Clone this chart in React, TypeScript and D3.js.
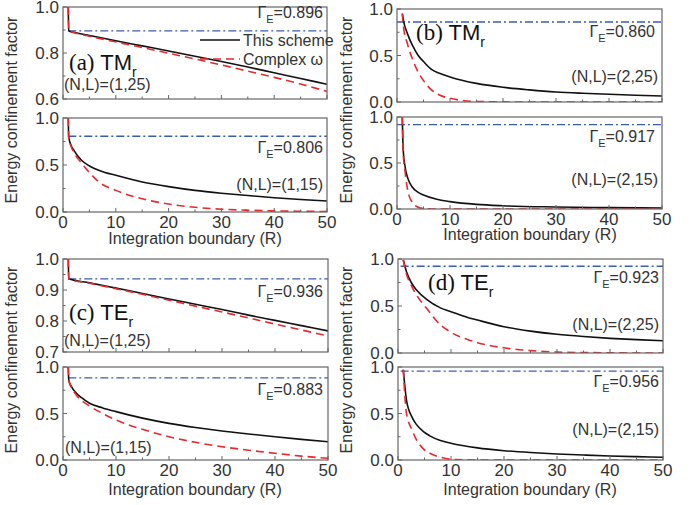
import React from 'react';
import * as d3 from 'd3';

// ---- data ----
const X_TICKS = [0, 10, 20, 30, 40, 50];
const X_MINOR = [5, 15, 25, 35, 45];

const R_A_TOP = [1, 1.08, 2, 5, 10, 15, 20, 25, 30, 35, 40, 45, 50];
const A_TOP_SCHEME = [1.0, 0.896, 0.89, 0.876, 0.853, 0.831, 0.809, 0.786, 0.763, 0.739, 0.714, 0.689, 0.664];
const A_TOP_COMPLEX = [1.0, 0.896, 0.889, 0.873, 0.848, 0.824, 0.799, 0.774, 0.748, 0.721, 0.694, 0.665, 0.633];

const R_A_BOT = [1, 1.08, 1.6, 2, 3.5, 5, 7, 10, 15, 20, 25, 30, 35, 40, 45, 50];
const A_BOT_SCHEME = [1.0, 0.8, 0.7, 0.66, 0.55, 0.49, 0.44, 0.39, 0.32, 0.27, 0.23, 0.2, 0.175, 0.152, 0.133, 0.117];
const A_BOT_COMPLEX = [1.0, 0.8, 0.69, 0.64, 0.52, 0.42, 0.31, 0.23, 0.14, 0.085, 0.05, 0.03, 0.019, 0.012, 0.008, 0.005];

const R_B_TOP = [1, 1.2, 2, 3, 4, 5, 6.5, 8, 10, 15, 20, 25, 30, 35, 40, 45, 50];
const B_TOP_SCHEME = [0.95, 0.88, 0.73, 0.6, 0.5, 0.435, 0.35, 0.31, 0.27, 0.2, 0.158, 0.13, 0.108, 0.094, 0.083, 0.073, 0.065];
const B_TOP_COMPLEX = [0.95, 0.82, 0.62, 0.45, 0.32, 0.23, 0.13, 0.075, 0.04, 0.006, 0.001, 0, 0, 0, 0, 0, 0];

const R_B_BOT = [1, 1.1, 1.2, 1.5, 1.8, 2.2, 2.8, 4, 5, 7.5, 10, 15, 20, 30, 40, 50];
const B_BOT_SCHEME = [1.0, 0.75, 0.62, 0.47, 0.38, 0.31, 0.245, 0.18, 0.152, 0.105, 0.08, 0.05, 0.035, 0.022, 0.015, 0.011];
const B_BOT_COMPLEX = [1.0, 0.72, 0.58, 0.42, 0.28, 0.16, 0.08, 0.02, 0.006, 0, 0, 0, 0, 0, 0, 0];

const R_C_TOP = [1, 1.08, 5, 10, 15, 20, 25, 30, 35, 40, 45, 50];
const C_TOP_SCHEME = [1.0, 0.936, 0.923, 0.906, 0.889, 0.871, 0.854, 0.837, 0.819, 0.802, 0.785, 0.768];
const C_TOP_COMPLEX = [1.0, 0.936, 0.922, 0.904, 0.886, 0.867, 0.848, 0.829, 0.81, 0.79, 0.771, 0.752];

const R_C_BOT = [1, 1.08, 1.6, 2.5, 3.5, 5, 7.5, 10, 15, 20, 25, 30, 35, 40, 45, 50];
const C_BOT_SCHEME = [1.0, 0.86, 0.79, 0.72, 0.67, 0.61, 0.56, 0.52, 0.45, 0.394, 0.35, 0.312, 0.28, 0.25, 0.222, 0.197];
const C_BOT_COMPLEX = [1.0, 0.86, 0.78, 0.7, 0.64, 0.58, 0.5, 0.43, 0.33, 0.25, 0.19, 0.143, 0.105, 0.072, 0.042, 0.018];

const R_D_TOP = [1, 1.6, 2.5, 3.5, 5.4, 8, 10, 13, 15, 20, 25, 30, 35, 40, 45, 50];
const D_TOP_SCHEME = [0.99, 0.865, 0.75, 0.67, 0.57, 0.48, 0.44, 0.38, 0.35, 0.28, 0.233, 0.199, 0.175, 0.156, 0.142, 0.131];
const D_TOP_COMPLEX = [0.99, 0.84, 0.72, 0.617, 0.475, 0.3, 0.22, 0.146, 0.11, 0.055, 0.025, 0.01, 0.005, 0.002, 0, 0];

const R_D_BOT = [1, 1.6, 2.6, 3.5, 4.8, 6, 8, 10, 15, 20, 25, 30, 35, 40, 45, 50];
const D_BOT_SCHEME = [0.97, 0.645, 0.466, 0.38, 0.305, 0.26, 0.21, 0.18, 0.13, 0.1, 0.08, 0.065, 0.053, 0.043, 0.036, 0.029];
const D_BOT_COMPLEX = [0.97, 0.5, 0.33, 0.215, 0.12, 0.072, 0.03, 0.008, 0, 0, 0, 0, 0, 0, 0, 0];

const GAMMA = ['0.896', '0.806', '0.860', '0.917', '0.936', '0.883', '0.923', '0.956'];
const NL = ['(N,L)=(1,25)', '(N,L)=(1,15)', '(N,L)=(2,25)', '(N,L)=(2,15)', '(N,L)=(1,25)', '(N,L)=(1,15)', '(N,L)=(2,25)', '(N,L)=(2,15)'];
const PANEL_TAGS = ['(a)', '(b)', '(c)', '(d)'];
const PANEL_MODES = ['TM', 'TM', 'TE', 'TE'];

const SANS = '"Liberation Sans", Arial, sans-serif';
const SERIF = '"Liberation Serif", "Times New Roman", serif';
const FRAME = '#666';
const TXT = '#333';

type Sub = {
  left: number; right: number; top: number; bottom: number;
  domain: [number, number]; yTicks: number[]; yMinor: number[];
  r: number[]; scheme: number[]; complex: number[]; gamma: number; gStart: number;
  xLabels: boolean; id: string;
};

function Subplot({ s }: { s: Sub }) {
  const x = d3.scaleLinear().domain([0, 50]).range([s.left, s.right]);
  const y = d3.scaleLinear().domain(s.domain).range([s.bottom, s.top]);
  const line = d3.line<[number, number]>()
    .x(d => x(d[0]))
    .y(d => y(d[1]))
    .curve(d3.curveMonotoneX);
  const sch = line(s.r.map((r, i) => [r, s.scheme[i]]));
  const cpx = line(s.r.map((r, i) => [r, s.complex[i]]));
  const fmt = d3.format('.1f');
  return (
    <g>
      <defs>
        <clipPath id={'clip' + s.id}>
          <rect x={s.left} y={s.top} width={s.right - s.left} height={s.bottom - s.top} />
        </clipPath>
      </defs>
      <g clipPath={`url(#clip${s.id})`}>
        <line x1={x(s.gStart)} x2={x(50)} y1={y(s.gamma)} y2={y(s.gamma)}
          stroke="#3b5cb5" strokeWidth={1.4} strokeDasharray="8,3,2,3" />
        <path d={sch || ''} fill="none" stroke="#111" strokeWidth={1.6} />
        <path d={cpx || ''} fill="none" stroke="#e8282d" strokeWidth={1.6} strokeDasharray="8,5" />
      </g>
      <rect x={s.left} y={s.top} width={s.right - s.left} height={s.bottom - s.top}
        fill="none" stroke={FRAME} strokeWidth={1.2} />
      {X_TICKS.map(t => (
        <line key={'xt' + t} x1={x(t)} x2={x(t)} y1={s.bottom} y2={s.bottom - 4} stroke={FRAME} />
      ))}
      {X_MINOR.map(t => (
        <line key={'xm' + t} x1={x(t)} x2={x(t)} y1={s.bottom} y2={s.bottom - 2.5} stroke={FRAME} />
      ))}
      {s.yTicks.map(t => (
        <g key={'yt' + t}>
          <line x1={s.left} x2={s.left + 4} y1={y(t)} y2={y(t)} stroke={FRAME} />
          <text x={s.left - 4} y={y(t) + 6} textAnchor="end" fontFamily={SANS} fontSize={17} fill={TXT}>{fmt(t)}</text>
        </g>
      ))}
      {s.yMinor.map(t => (
        <line key={'ym' + t} x1={s.left} x2={s.left + 2.5} y1={y(t)} y2={y(t)} stroke={FRAME} />
      ))}
      {s.xLabels && X_TICKS.map(t => (
        <text key={'xl' + t} x={x(t)} y={s.bottom + 16} textAnchor="middle" fontFamily={SANS} fontSize={17} fill={TXT}>{t}</text>
      ))}
    </g>
  );
}

function Gamma({ x, y, v, anchor }: { x: number; y: number; v: string; anchor: 'start' | 'end' }) {
  return (
    <text x={x} y={y} textAnchor={anchor} fontFamily={SANS} fontSize={16} fill={TXT}>
      Γ<tspan fontSize={11} dy={5}>E</tspan><tspan dy={-5}>={v}</tspan>
    </text>
  );
}

function Tag({ x, y, i }: { x: number; y: number; i: number }) {
  return (
    <text x={x} y={y} fill="#111">
      <tspan fontFamily={SERIF} fontSize={23}>{PANEL_TAGS[i]} </tspan>
      <tspan fontFamily={SANS} fontSize={22}>{PANEL_MODES[i]}</tspan>
      <tspan fontFamily={SANS} fontSize={14} dy={7}>r</tspan>
    </text>
  );
}

export default function App() {
  const y01 = { domain: [0, 1] as [number, number], yTicks: [0, 0.5, 1], yMinor: [0.25, 0.75] };
  const subs: Sub[] = [
    { id: 'a1', left: 63, right: 327, top: 7, bottom: 99, domain: [0.6, 1], yTicks: [0.6, 0.8, 1], yMinor: [0.7, 0.9],
      r: R_A_TOP, scheme: A_TOP_SCHEME, complex: A_TOP_COMPLEX, gamma: +GAMMA[0], gStart: 1, xLabels: false },
    { id: 'a2', left: 63, right: 327, top: 118, bottom: 212, ...y01,
      r: R_A_BOT, scheme: A_BOT_SCHEME, complex: A_BOT_COMPLEX, gamma: +GAMMA[1], gStart: 1, xLabels: true },
    { id: 'b1', left: 397, right: 662, top: 9, bottom: 102, ...y01,
      r: R_B_TOP, scheme: B_TOP_SCHEME, complex: B_TOP_COMPLEX, gamma: +GAMMA[2], gStart: 0, xLabels: false },
    { id: 'b2', left: 397, right: 662, top: 117, bottom: 209, ...y01,
      r: R_B_BOT, scheme: B_BOT_SCHEME, complex: B_BOT_COMPLEX, gamma: +GAMMA[3], gStart: 0, xLabels: true },
    { id: 'c1', left: 63, right: 328, top: 259, bottom: 352, domain: [0.7, 1], yTicks: [0.7, 0.8, 0.9, 1], yMinor: [0.75, 0.85, 0.95],
      r: R_C_TOP, scheme: C_TOP_SCHEME, complex: C_TOP_COMPLEX, gamma: +GAMMA[4], gStart: 1, xLabels: false },
    { id: 'c2', left: 63, right: 328, top: 367, bottom: 460, ...y01,
      r: R_C_BOT, scheme: C_BOT_SCHEME, complex: C_BOT_COMPLEX, gamma: +GAMMA[5], gStart: 1, xLabels: true },
    { id: 'd1', left: 398, right: 663, top: 259, bottom: 353, ...y01,
      r: R_D_TOP, scheme: D_TOP_SCHEME, complex: D_TOP_COMPLEX, gamma: +GAMMA[6], gStart: 0.5, xLabels: false },
    { id: 'd2', left: 398, right: 663, top: 367, bottom: 460, ...y01,
      r: R_D_BOT, scheme: D_BOT_SCHEME, complex: D_BOT_COMPLEX, gamma: +GAMMA[7], gStart: 0.5, xLabels: true },
  ];

  const title = (cx: number, cy: number) => (
    <text transform={`translate(${cx},${cy}) rotate(-90)`} textAnchor="middle"
      fontFamily={SANS} fontSize={16} fill={TXT}>Energy confinement factor</text>
  );
  const xTitle = (cx: number, y: number) => (
    <text x={cx} y={y} textAnchor="middle" fontFamily={SANS} fontSize={16} fill={TXT}>Integration boundary (R)</text>
  );

  return (
    <svg width={698} height={505} style={{ position: 'absolute', left: 0, top: 0 }}>
      <rect width={698} height={505} fill="#fff" />
      {subs.map(s => <Subplot key={s.id} s={s} />)}

      {title(17, 110)}
      {title(352, 110)}
      {title(17, 360)}
      {title(352, 360)}
      {xTitle(195, 244)}
      {xTitle(530, 240)}
      {xTitle(195, 495)}
      {xTitle(530, 495)}

      {/* panel (a) */}
      <Tag x={69} y={70} i={0} />
      <Gamma x={323} y={18} v={GAMMA[0]} anchor="end" />
      <text x={64} y={90} fontFamily={SANS} fontSize={16} fill={TXT}>{NL[0]}</text>
      <line x1={200} x2={240} y1={40} y2={40} stroke="#111" strokeWidth={1.6} />
      <text x={243} y={46} fontFamily={SANS} fontSize={16} fill={TXT}>This scheme</text>
      <line x1={200} x2={240} y1={59} y2={59} stroke="#e8282d" strokeWidth={1.6} strokeDasharray="8,5" />
      <text x={243} y={65} fontFamily={SANS} fontSize={16} fill={TXT}>Complex ω</text>
      <Gamma x={323} y={153} v={GAMMA[1]} anchor="end" />
      <text x={323} y={190} textAnchor="end" fontFamily={SANS} fontSize={16} fill={TXT}>{NL[1]}</text>

      {/* panel (b) */}
      <Tag x={416} y={40} i={1} />
      <Gamma x={655} y={37} v={GAMMA[2]} anchor="end" />
      <text x={658} y={82} textAnchor="end" fontFamily={SANS} fontSize={16} fill={TXT}>{NL[2]}</text>
      <Gamma x={655} y={142} v={GAMMA[3]} anchor="end" />
      <text x={658} y={185} textAnchor="end" fontFamily={SANS} fontSize={16} fill={TXT}>{NL[3]}</text>

      {/* panel (c) */}
      <Tag x={69} y={320} i={2} />
      <Gamma x={323} y={297} v={GAMMA[4]} anchor="end" />
      <text x={64} y={346} fontFamily={SANS} fontSize={16} fill={TXT}>{NL[4]}</text>
      <Gamma x={323} y={395} v={GAMMA[5]} anchor="end" />
      <text x={65} y={453} fontFamily={SANS} fontSize={16} fill={TXT}>{NL[5]}</text>

      {/* panel (d) */}
      <Tag x={428} y={290} i={3} />
      <Gamma x={659} y={283} v={GAMMA[6]} anchor="end" />
      <text x={659} y={330} textAnchor="end" fontFamily={SANS} fontSize={16} fill={TXT}>{NL[6]}</text>
      <Gamma x={659} y={387} v={GAMMA[7]} anchor="end" />
      <text x={659} y={435} textAnchor="end" fontFamily={SANS} fontSize={16} fill={TXT}>{NL[7]}</text>
    </svg>
  );
}
